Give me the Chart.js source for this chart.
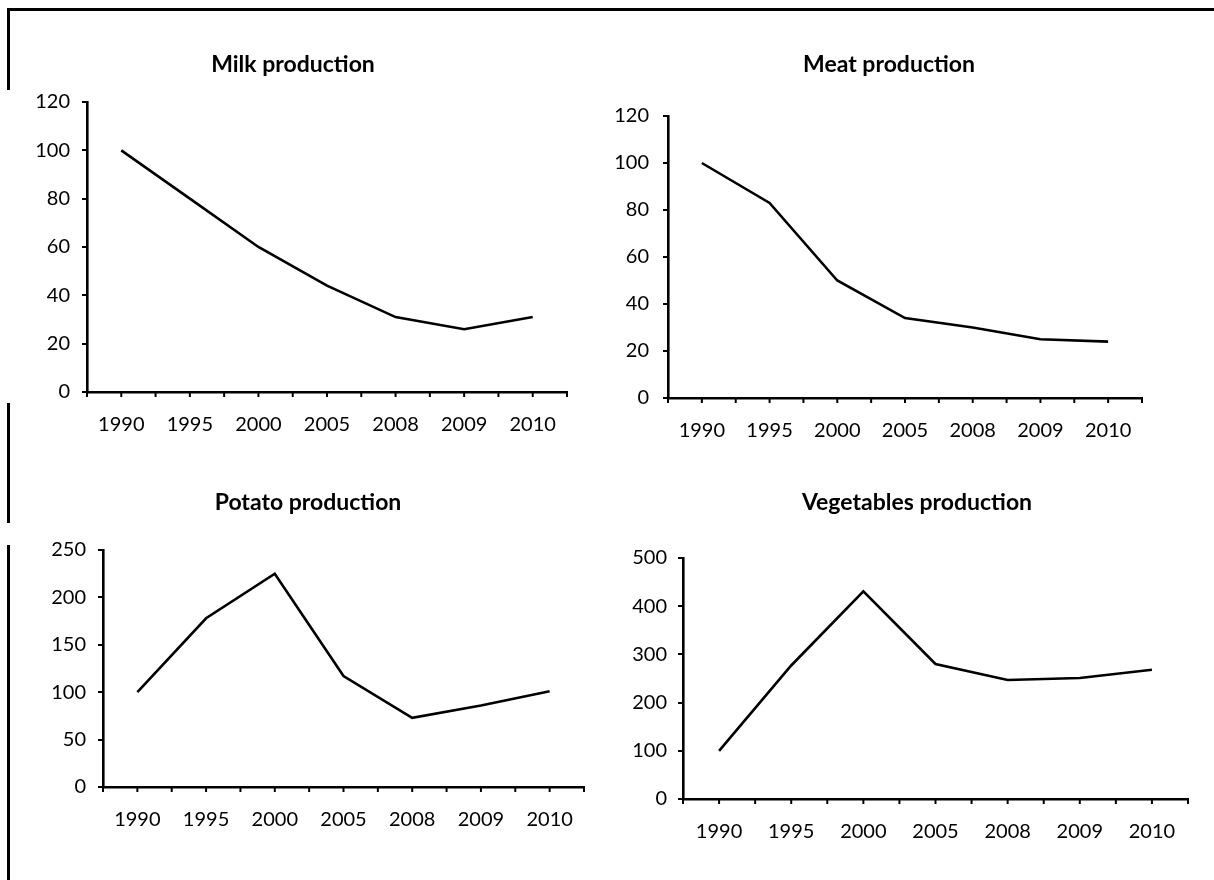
<!DOCTYPE html>
<html>
<head>
<meta charset="utf-8">
<script src="https://cdn.jsdelivr.net/npm/chart.js@4.4.0/dist/chart.umd.min.js"></script>
<style>
  html, body { margin: 0; padding: 0; background: #ffffff; }
  body { width: 1214px; height: 880px; position: relative; overflow: hidden; }
  .line { position: absolute; background: #000; }
  .box { position: absolute; }
  .box canvas { display: block; }
</style>
</head>
<body>
<div class="line" style="left:7px; top:8px; width:1207px; height:3px;"></div>
<div class="line" style="left:7px; top:8px; width:2.5px; height:82px;"></div>
<div class="line" style="left:7px; top:403px; width:2.5px; height:120px;"></div>
<div class="line" style="left:7px; top:545px; width:2.5px; height:335px;"></div>

<div class="box" id="b0"><canvas id="c0"></canvas></div>
<div class="box" id="b1"><canvas id="c1"></canvas></div>
<div class="box" id="b2"><canvas id="c2"></canvas></div>
<div class="box" id="b3"><canvas id="c3"></canvas></div>

<script>
// ---- data ----
const years = ['1990', '1995', '2000', '2005', '2008', '2009', '2010'];
const milk = [100, 80, 60, 44, 31, 26, 31];
const meat = [100, 83, 50, 34, 30, 25, 24];
const potato = [100, 178, 225, 117, 73, 86, 101];
const vegetables = [100, 277, 431, 280, 247, 251, 268];
const titles = ['Milk production', 'Meat production', 'Potato production', 'Vegetables production'];
const yMax = [120, 120, 250, 500];
const yStep = [20, 20, 50, 100];
const series = [milk, meat, potato, vegetables];

// ---- layout (positions / sizes) ----
const layouts = [
  { left: 13,  top: 20,  width: 560, height: 422, padLeft: 6,  padRight: 6, extraRight: 0,  tTop: 31.2, tBottom: 23.2, yWidth: 68, yPad: 12 },
  { left: 600, top: 20,  width: 570, height: 428, padLeft: 12, padRight: 4, extraRight: 24, tTop: 31.2, tBottom: 37.2, yWidth: 56, yPad: 14 },
  { left: 20,  top: 450, width: 570, height: 387, padLeft: 12, padRight: 6, extraRight: 0,  tTop: 39.2, tBottom: 33.2, yWidth: 71, yPad: 12 },
  { left: 620, top: 450, width: 587, height: 399, padLeft: 11, padRight: 4, extraRight: 15, tTop: 39.2, tBottom: 41.2, yWidth: 52, yPad: 11 }
];
const X_AXIS_HEIGHT = 50;
const FONT = 'Lato, Carlito, Calibri, "Open Sans", sans-serif';
const TICK_SIZE = 20;
const TITLE_SIZE = 23;

const catTicks = {
  id: 'catTicks',
  afterDraw(chart) {
    const s = chart.scales.x;
    const ctx = chart.ctx;
    const n = s.ticks.length;
    const c = [];
    for (let i = 0; i < n; i++) c.push(s.getPixelForTick(i));
    const xs = [s.left];
    for (let i = 0; i < n; i++) {
      if (i > 0) xs.push((c[i - 1] + c[i]) / 2);
      xs.push(c[i]);
    }
    xs.push(s.right);
    const y0 = chart.chartArea.bottom;
    ctx.save();
    ctx.strokeStyle = '#000';
    ctx.lineWidth = 2;
    xs.forEach(x => {
      ctx.beginPath();
      ctx.moveTo(x, y0);
      ctx.lineTo(x, y0 + 5);
      ctx.stroke();
    });
    ctx.restore();
  }
};

series.forEach((vals, k) => {
  const L = layouts[k];
  const box = document.getElementById('b' + k);
  box.style.left = L.left + 'px';
  box.style.top = L.top + 'px';
  box.style.width = L.width + 'px';
  box.style.height = L.height + 'px';
  const cv = document.getElementById('c' + k);
  cv.width = L.width; cv.height = L.height;
  cv.style.width = L.width + 'px'; cv.style.height = L.height + 'px';

  new Chart(cv, {
    type: 'line',
    data: {
      labels: years,
      datasets: [{
        data: vals,
        yAxisID: 'y',
        borderColor: '#000',
        borderWidth: 2.6,
        pointRadius: 0,
        tension: 0,
        fill: false
      }]
    },
    plugins: [catTicks],
    options: {
      responsive: false,
      animation: false,
      events: [],
      layout: { padding: { left: L.padLeft, right: L.padRight, top: 0, bottom: 0 } },
      plugins: {
        legend: { display: false },
        tooltip: { enabled: false },
        title: {
          display: true,
          text: titles[k],
          color: '#000',
          font: { family: FONT, size: TITLE_SIZE, weight: 'bold', lineHeight: 1.2 },
          padding: { top: L.tTop, bottom: L.tBottom }
        }
      },
      scales: {
        x: {
          type: 'category',
          offset: true,
          grid: { display: true, drawOnChartArea: false, drawTicks: true, tickLength: 21, color: 'rgba(0,0,0,0)' },
          border: { display: true, color: '#000', width: 2.6 },
          ticks: { color: '#000', padding: 0, maxRotation: 0, autoSkip: false, font: { family: FONT, size: TICK_SIZE, lineHeight: 1.2 } },
          afterFit(s) { s.height = X_AXIS_HEIGHT; }
        },
        y: {
          position: 'left',
          min: 0,
          max: yMax[k],
          grid: { display: true, drawOnChartArea: false, drawTicks: true, tickLength: 5, color: '#000', lineWidth: 2 },
          border: { display: true, color: '#000', width: 2.6 },
          ticks: { stepSize: yStep[k], color: '#000', padding: L.yPad, font: { family: FONT, size: TICK_SIZE, lineHeight: 1.2 } },
          afterFit(s) { s.width = L.yWidth; }
        },
        spacer: {
          type: 'linear',
          position: 'right',
          display: L.extraRight > 0,
          grid: { display: false },
          border: { display: false },
          ticks: { display: false },
          afterFit(s) { s.width = L.extraRight; }
        }
      }
    }
  });
});
</script>
</body>
</html>
